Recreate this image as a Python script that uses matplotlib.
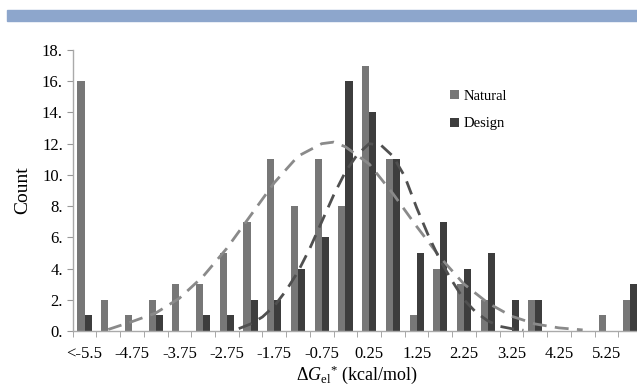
import numpy as np
import matplotlib
matplotlib.use("Agg")
import matplotlib.pyplot as plt
from matplotlib.patches import Rectangle

plt.rcParams['font.family'] = ['Liberation Serif', 'DejaVu Serif']
plt.rcParams['mathtext.fontset'] = 'custom'
plt.rcParams['mathtext.rm'] = 'Liberation Serif'
plt.rcParams['mathtext.it'] = 'Liberation Serif:italic'

# histogram bins (every other label is shown on the axis)
bins = ['<-5.5', '-5.25', '-4.75', '-4.25', '-3.75', '-3.25', '-2.75', '-2.25',
        '-1.75', '-1.25', '-0.75', '-0.25', '0.25', '0.75', '1.25', '1.75',
        '2.25', '2.75', '3.25', '3.75', '4.25', '4.75', '5.25', '>5.5']
natural = [16, 2, 1, 2, 3, 3, 5, 7, 11, 8, 11, 8, 17, 11, 1, 4, 3, 2, 0, 2, 0, 0, 1, 2]
design = [1, 0, 0, 1, 0, 1, 1, 2, 2, 4, 6, 16, 14, 11, 5, 7, 4, 5, 2, 2, 0, 0, 0, 3]

# dashed fit curves (x in bin index units)
natural_fit_x = [1.0, 2.0, 3.0, 4.0, 5.0, 6.0, 7.0, 8.0, 9.0, 10.0, 10.5, 11.0,
                 12.0, 13.0, 14.0, 15.0, 16.0, 17.0, 18.0, 19.0, 20.0, 21.0]
natural_fit_y = [0.1, 0.6, 1.15, 2.1, 3.5, 5.3, 7.4, 9.5, 11.2, 12.0, 12.1, 11.8,
                 10.7, 8.8, 6.7, 4.7, 3.0, 1.8, 0.95, 0.45, 0.2, 0.07]
design_fit_x = [6.5, 7.0, 7.5, 8.0, 8.5, 9.0, 9.5, 10.0, 10.5, 11.0, 11.5, 12.0,
                12.5, 13.0, 13.5, 14.0, 14.5, 15.0, 15.5, 16.0, 16.5, 17.0,
                17.5, 18.0, 18.5]
design_fit_y = [0.15, 0.45, 0.9, 1.6, 2.6, 3.8, 5.3, 7.0, 8.7, 10.2, 11.3, 12.0,
                11.9, 11.2, 9.9, 7.9, 6.1, 4.5, 3.2, 2.0, 1.2, 0.65,
                0.3, 0.15, 0.05]

fig = plt.figure(figsize=(6.37, 3.88), dpi=100)

# blue banner across the top
fig.patches.append(Rectangle((7 / 637, 1 - 21 / 388), 1, 11 / 388,
                             transform=fig.transFigure, color='#8da6cc', zorder=0))

ax = fig.add_axes([0.1141, 0.1469, 0.8937, 0.7242])

x = np.arange(len(bins))
w = 0.3
ax.bar(x - 0.15, natural, w, color='#777777', label='Natural', zorder=2)
ax.bar(x + 0.15, design, w, color='#3d3d3d', label='Design', zorder=2)

ax.plot(natural_fit_x, natural_fit_y, color='#8a8a8a', lw=2.0,
        dashes=(5, 3), zorder=3)
ax.plot(design_fit_x, design_fit_y, color='#505050', lw=2.0,
        dashes=(5, 3), zorder=3)

ax.set_xlim(-0.5, len(bins) - 0.5)
ax.set_ylim(0, 18)

ax.set_yticks(np.arange(0, 19, 2))
ax.set_yticklabels([f'{v}.' for v in range(0, 19, 2)])
ax.set_xticks(x[::2])
ax.set_xticklabels(bins[::2])
ax.set_xticks(np.arange(len(bins) + 1) - 0.5, minor=True)
ax.tick_params(axis='x', which='major', length=0, pad=11, labelsize=12)
ax.tick_params(axis='x', which='minor', length=4, color='#999999', direction='out')
ax.tick_params(axis='y', length=4, color='#999999', labelsize=12, pad=3)

for s in ['top', 'right']:
    ax.spines[s].set_visible(False)
for s in ['left', 'bottom']:
    ax.spines[s].set_color('#aaaaaa')
    ax.spines[s].set_linewidth(1.0)

ax.set_ylabel('Count', fontsize=14, labelpad=8)
ax.set_xlabel(r'$\Delta G_{\rm el}{}^{*}$ (kcal/mol)', fontsize=13, labelpad=1)

ax.legend(loc='upper left', bbox_to_anchor=(0.64, 0.905), frameon=False,
          fontsize=10.5, handlelength=0.6, handleheight=0.6, handletextpad=0.3,
          labelspacing=1.0)

fig.savefig('out.png', dpi=100)
